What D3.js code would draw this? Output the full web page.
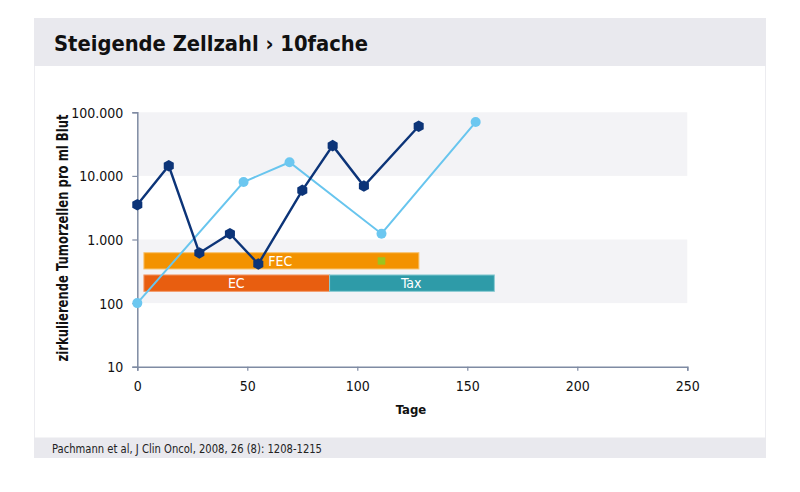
<!DOCTYPE html>
<html><head><meta charset="utf-8">
<script src="https://cdn.jsdelivr.net/npm/d3@7/dist/d3.min.js"></script>
<style>body{margin:0;background:#fff;} svg{display:block;}</style>
</head><body><svg id="c" width="800" height="492"></svg>
<script>
const title = "Steigende Zellzahl \u203A 10fache";
const source = "Pachmann et al, J Clin Oncol, 2008, 26 (8): 1208-1215";
const yLabel = "zirkulierende Tumorzellen pro ml Blut";
const xLabel = "Tage";
const xTicks = [0, 50, 100, 150, 200, 250];
const yTicks = [10, 100, 1000, 10000, 100000];
const yTickLabels = ["10", "100", "1.000", "10.000", "100.000"];
const bandRanges = [[10000, 100000], [100, 1000]];
const darkDays = [0, 14.3, 28.2, 42.1, 55.0, 75.0, 88.8, 103.0, 127.9];
const darkValues = [3520, 14450, 614, 1233, 412, 5940, 29900, 6930, 60300];
const lightDays = [0, 48.3, 69.2, 111.0, 153.8];
const lightValues = [100, 8020, 16400, 1233, 70300];
const barNames = ["FEC", "EC", "Tax"];
const barStart = [3, 3, 87.4];
const barEnd = [128, 87.4, 162.3];
const barTop = [620, 277, 277];
const barBottom = [344, 153, 153];
const barLabelDay = [65, 45, 124.5];
const markerDay = [111];
const markerValue = [460];

const svg = d3.select("#c");
const font = "'DejaVu Sans Condensed','Liberation Sans Narrow','Roboto',sans-serif";
const narrow = "'Liberation Sans Narrow','DejaVu Sans Condensed',sans-serif";

// panel
svg.append("rect").attr("x",34.5).attr("y",18.5).attr("width",731).attr("height",439).attr("fill","#fff").attr("stroke","#ececf0");
svg.append("rect").attr("x",34).attr("y",18).attr("width",732).attr("height",48).attr("fill","#e9e9ee");
svg.append("rect").attr("x",34).attr("y",437.5).attr("width",732).attr("height",20.5).attr("fill","#e9e9ee");

svg.append("text").attr("x",54).attr("y",51).attr("font-family",font).attr("font-weight","bold")
  .attr("font-size",22).attr("fill","#111").attr("textLength",314).attr("lengthAdjust","spacingAndGlyphs").text(title);

svg.append("text").attr("x",52).attr("y",452.5).attr("font-family",narrow)
  .attr("font-size",12).attr("fill","#222").attr("textLength",270).attr("lengthAdjust","spacingAndGlyphs").text(source);

const x = d3.scaleLinear().domain([0,250]).range([137.3,687.3]);
const y = d3.scaleLog().domain([10,100000]).range([366.7,112.3]);

// bands
svg.append("g").selectAll("rect").data(bandRanges).join("rect")
  .attr("x",x(0)).attr("width",x(250)-x(0))
  .attr("y",d=>y(d[1])).attr("height",d=>y(d[0])-y(d[1])).attr("fill","#f3f3f6");

// bars
const barColors = ["#f39200","#e85e10","#2e9ba8"];
const barStroke = ["#f8c26e","#f39a6a","#8ccbd3"];
const bars = svg.append("g");
barNames.forEach((n,i)=>{
  bars.append("rect").attr("x",x(barStart[i])).attr("width",x(barEnd[i])-x(barStart[i]))
    .attr("y",y(barTop[i])).attr("height",y(barBottom[i])-y(barTop[i]))
    .attr("fill",barColors[i]).attr("stroke",barStroke[i]).attr("stroke-width",1);
});
barNames.forEach((n,i)=>{
  bars.append("text").attr("x",x(barLabelDay[i])).attr("y",(y(barTop[i])+y(barBottom[i]))/2+5)
    .attr("text-anchor","middle").attr("font-family",font).attr("font-size",14).attr("fill","#fff").text(n);
});
svg.append("g").selectAll("rect").data(markerDay).join("rect")
  .attr("x",(d)=>x(d)-3.8).attr("y",(d,i)=>y(markerValue[i])-3.7).attr("width",7.6).attr("height",7.4).attr("fill","#9cc41e");

// axes
const axisColor = "#7f8ba3";
const yAxis = svg.append("g").attr("transform",`translate(${x(0)},0)`)
  .call(d3.axisLeft(y).tickValues(yTicks).tickFormat((d,i)=>yTickLabels[i]).tickSize(5).tickPadding(9));
const xAxis = svg.append("g").attr("transform",`translate(0,${y(10)})`)
  .call(d3.axisBottom(x).tickValues(xTicks).tickSize(4).tickPadding(10));
[yAxis,xAxis].forEach(a=>{
  a.select(".domain").attr("stroke",axisColor).attr("stroke-width",1.5);
  a.selectAll(".tick line").attr("stroke",axisColor).attr("stroke-width",1.2);
  a.selectAll("text").attr("font-family",narrow).attr("font-size",14).attr("fill","#111");
});
yAxis.selectAll("text").attr("dy","0.36em");

svg.append("text").attr("x",411).attr("y",414).attr("text-anchor","middle").attr("font-family",font)
  .attr("font-weight","bold").attr("font-size",13).attr("fill","#111").text(xLabel);
svg.append("text").attr("transform","translate(67.5,238) rotate(-90)").attr("text-anchor","middle")
  .attr("font-family",font).attr("font-weight","bold").attr("font-size",16).attr("fill","#111")
  .attr("textLength",247).attr("lengthAdjust","spacingAndGlyphs").text(yLabel);

// lines
const line = d3.line().x(d=>x(d[0])).y(d=>y(d[1]));
const light = lightDays.map((d,i)=>[d,lightValues[i]]);
const dark = darkDays.map((d,i)=>[d,darkValues[i]]);
svg.append("path").datum(light).attr("d",line).attr("fill","none").attr("stroke","#68c5ee").attr("stroke-width",2);
svg.append("g").selectAll("circle").data(light).join("circle").attr("cx",d=>x(d[0])).attr("cy",d=>y(d[1])).attr("r",5).attr("fill","#6cc7f0");
svg.append("path").datum(dark).attr("d",line).attr("fill","none").attr("stroke","#0c3478").attr("stroke-width",2.4);
const hexPath = d3.range(6).map(k=>{const a=Math.PI/3*k+Math.PI/6;return [5.8*Math.cos(a),5.8*Math.sin(a)];});
svg.append("g").selectAll("path").data(dark).join("path")
  .attr("transform",d=>`translate(${x(d[0])},${y(d[1])})`)
  .attr("d","M"+hexPath.map(p=>p.join(",")).join("L")+"Z").attr("fill","#0c3478");
</script></body></html>
